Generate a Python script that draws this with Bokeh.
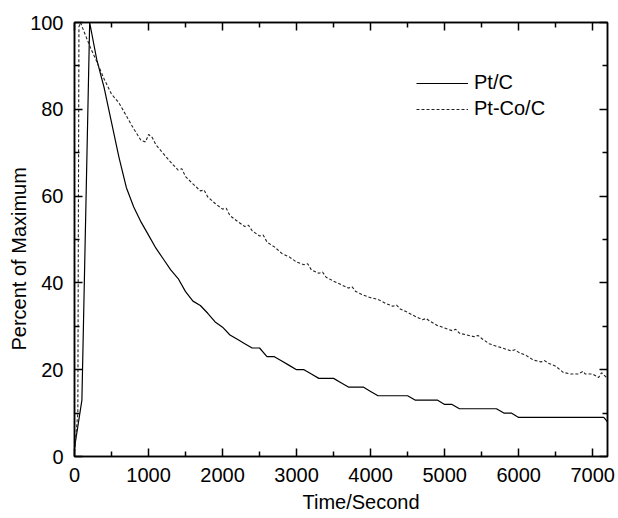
from bokeh.plotting import figure
from bokeh.models import (LinearAxis, Range1d, FixedTicker, Legend, LegendItem,
                          CustomJSTickFormatter, Title)
from bokeh.embed import file_html
from bokeh.resources import INLINE

# ---- data ----
pt_time = [0, 100, 205, 300, 400, 500, 600, 700, 800, 900, 1000, 1100, 1200, 1300, 1400,
           1500, 1600, 1700, 1800, 1900, 2000, 2100, 2200, 2300, 2400, 2500, 2600, 2700,
           2800, 2900, 3000, 3100, 3200, 3300, 3500, 3600, 3700, 3900, 4000, 4100, 4500,
           4600, 4900, 5000, 5100, 5200, 5700, 5800, 5900, 6000, 7150, 7200]
pt_pct = [2, 13, 100, 91.5, 85, 77, 69, 62, 57.5, 54, 51, 48, 45.5, 43, 41,
          38, 35.8, 34.8, 33, 31, 29.8, 28, 27, 26, 25, 25, 23, 23,
          22, 21, 20, 20, 19, 18, 18, 17, 16, 16, 15, 14, 14,
          13, 13, 12, 12, 11, 11, 10, 10, 9, 9, 8]

ptco_time = [0, 45, 60, 80, 150, 220, 300, 400, 500, 600, 700, 800, 900, 960, 1000, 1050,
             1100, 1200, 1300, 1400, 1450, 1500, 1600, 1700, 1750, 1800, 1900, 2000, 2050,
             2100, 2200, 2300, 2350, 2400, 2500, 2550, 2600, 2700, 2800, 2900, 3000, 3100,
             3150, 3200, 3300, 3350, 3400, 3500, 3600, 3700, 3750, 3800, 3900, 4000, 4100,
             4200, 4300, 4350, 4400, 4500, 4600, 4700, 4750, 4800, 4900, 5000, 5100, 5150,
             5200, 5300, 5400, 5450, 5500, 5600, 5700, 5800, 5900, 5950, 6000, 6100, 6200,
             6300, 6350, 6400, 6500, 6600, 6700, 6800, 6870, 6900, 7000, 7080, 7120, 7200]
ptco_pct = [1, 10, 99, 100, 97, 94, 91, 87, 83.5, 81.5, 78.5, 75.5, 72.8, 72.5, 74.2, 73.5,
            71.8, 69.8, 67.8, 66, 66.3, 64.5, 62.8, 61.2, 61.4, 59.8, 58.3, 57, 57.2,
            55.5, 54.2, 53, 53.3, 52, 50.8, 51, 49.4, 48.3, 46.8, 46, 44.8, 44.2,
            44.4, 43, 42.2, 42.5, 41.3, 40.4, 39.6, 38.8, 39.1, 38, 37.2, 36.6, 36.2,
            35.3, 34.6, 34.9, 34, 33.2, 32.3, 31.5, 31.8, 31.2, 30.2, 29.6, 29, 29.3,
            28.4, 28, 27.6, 27.9, 27.2, 26, 25.4, 24.9, 24.3, 24.6, 24, 23.3, 22.2,
            21.8, 22.1, 21.5, 20.8, 19.4, 19, 19, 19.6, 19, 19, 18.2, 19.3, 18]

x_major = [0, 1000, 2000, 3000, 4000, 5000, 6000, 7000]
x_minor = [500, 1500, 2500, 3500, 4500, 5500, 6500]
y_major = [0, 20, 40, 60, 80, 100]
y_minor = [10, 30, 50, 70, 90]

series_names = ["Pt/C", "Pt-Co/C"]
x_title = "Time/Second"
y_title = "Percent of Maximum"

FONT = "Liberation Sans"
FS = "20px"

p = figure(width=618, height=518, output_backend="svg", toolbar_location=None,
           x_range=Range1d(0, 7200), y_range=Range1d(0, 100),
           min_border_left=74, min_border_right=11, min_border_top=22, min_border_bottom=62,
           x_axis_location=None, y_axis_location=None)
p.xgrid.visible = False
p.ygrid.visible = False
p.outline_line_color = "black"
p.outline_line_width = 1.5
p.background_fill_color = "white"
p.border_fill_color = "white"

xt = FixedTicker(ticks=x_major, minor_ticks=x_minor)
yt = FixedTicker(ticks=y_major, minor_ticks=y_minor)
blank = CustomJSTickFormatter(code="return ''")

def style(ax, labels=True):
    ax.axis_line_color = "black"
    ax.axis_line_width = 1.5
    ax.major_tick_in = 8
    ax.major_tick_out = 0
    ax.minor_tick_in = 5
    ax.minor_tick_out = 0
    ax.major_tick_line_color = "black"
    ax.minor_tick_line_color = "black"
    ax.major_tick_line_width = 1.5
    ax.minor_tick_line_width = 1.5
    ax.major_label_text_font = FONT
    ax.major_label_text_font_size = FS
    ax.major_label_text_color = "black"
    if labels:
        ax.major_label_standoff = 11
    else:
        ax.major_label_standoff = 0
        ax.formatter = blank

bottom = LinearAxis(ticker=xt)
style(bottom)
left = LinearAxis(ticker=yt)
style(left)
top = LinearAxis(ticker=xt)
style(top, labels=False)
right = LinearAxis(ticker=yt)
style(right, labels=False)
p.add_layout(bottom, "below")
p.add_layout(left, "left")
p.add_layout(top, "above")
p.add_layout(right, "right")

r1 = p.line(pt_time, pt_pct, line_color="black", line_width=1.2)
r2 = p.line(ptco_time, ptco_pct, line_color="#222222", line_width=1.1, line_dash="3 2")

legend = Legend(items=[LegendItem(label=series_names[0], renderers=[r1]),
                       LegendItem(label=series_names[1], renderers=[r2])],
                location=(342, 336))
legend.border_line_alpha = 0
legend.background_fill_alpha = 0
legend.padding = 0
legend.margin = 0
legend.spacing = 3
legend.glyph_width = 52
legend.glyph_height = 20
legend.label_height = 20
legend.label_standoff = 6
legend.label_text_font = FONT
legend.label_text_font_size = FS
legend.label_text_color = "black"
p.add_layout(legend)

xlab = Title(text=x_title, align="left", offset=228, standoff=9,
             text_font=FONT, text_font_size=FS, text_font_style="normal",
             text_color="black")
ylab = Title(text=y_title, align="left", offset=106, standoff=2,
             text_font=FONT, text_font_size=FS, text_font_style="normal",
             text_color="black")
try:
    ylab.standoff = -4
except Exception:
    ylab.standoff = 0
p.add_layout(xlab, "below")
p.add_layout(ylab, "left")

open("out.html", "w").write(file_html(p, INLINE))
